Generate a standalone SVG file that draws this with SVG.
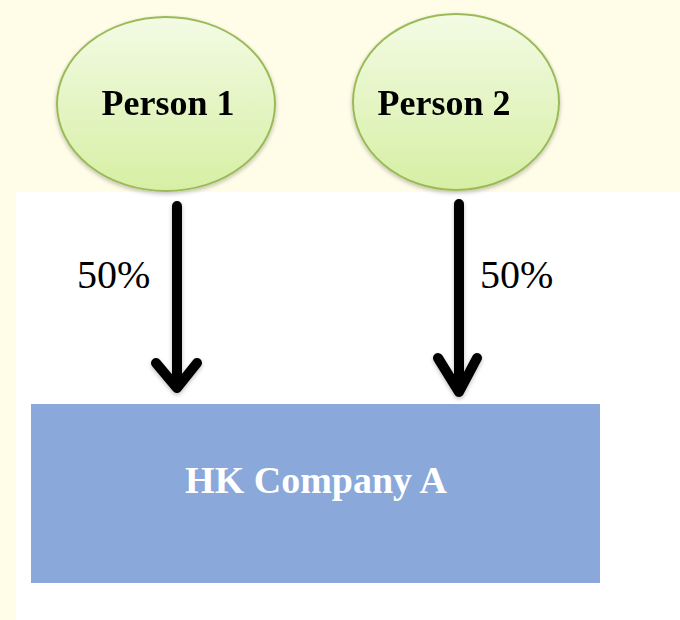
<svg xmlns="http://www.w3.org/2000/svg" width="680" height="620" viewBox="0 0 680 620">
<defs>
<linearGradient id="gfill" x1="0" y1="0" x2="0" y2="1">
<stop offset="0" stop-color="#F3FBE4"/>
<stop offset="1" stop-color="#D6EFA4"/>
</linearGradient>
<filter id="sh" x="-10%" y="-10%" width="120%" height="125%">
<feGaussianBlur in="SourceAlpha" stdDeviation="2"/>
<feOffset dy="2"/>
<feComponentTransfer><feFuncA type="linear" slope="0.25"/></feComponentTransfer>
<feMerge><feMergeNode/><feMergeNode in="SourceGraphic"/></feMerge>
</filter>
</defs>
<style>
.person{fill:url(#gfill);stroke:#9BBB59;stroke-width:2}
.ptxt{font-family:"Liberation Serif","Times New Roman",serif;font-weight:bold;font-size:36px;fill:#000}
.pct{font-family:"Liberation Serif","Times New Roman",serif;font-size:40px;fill:#000}
.arrow{fill:none;stroke:#000;stroke-width:10;stroke-linecap:round;stroke-linejoin:round}
.ctxt{font-family:"Liberation Serif","Times New Roman",serif;font-weight:bold;font-size:38px;fill:#fff}
</style>
<rect x="0" y="0" width="680" height="620" fill="#FFFDE8"/>
<rect x="16" y="192" width="664" height="428" fill="#FFFFFF"/>
<g id="person1" filter="url(#sh)">
<ellipse class="person" cx="166" cy="104" rx="109" ry="87"/>
<text class="ptxt" x="168" y="115" text-anchor="middle">Person 1</text>
</g>
<g id="person2" filter="url(#sh)">
<ellipse class="person" cx="456" cy="102" rx="103" ry="88"/>
<text class="ptxt" x="444" y="115" text-anchor="middle">Person 2</text>
</g>
<g id="company">
<rect x="31" y="404" width="569" height="179" fill="#8BA8DA"/>
<text class="ctxt" x="316" y="493" text-anchor="middle">HK Company A</text>
</g>
<g id="connectors" filter="url(#sh)">
<path class="arrow" d="M177 206 V388 M156 363 L177 388 L197 363"/>
<path class="arrow" d="M459 204 V392 M438 358 L459 392 L477 358"/>
</g>
<g id="labels">
<text class="pct" x="77" y="288">50%</text>
<text class="pct" x="480" y="288">50%</text>
</g>
</svg>
